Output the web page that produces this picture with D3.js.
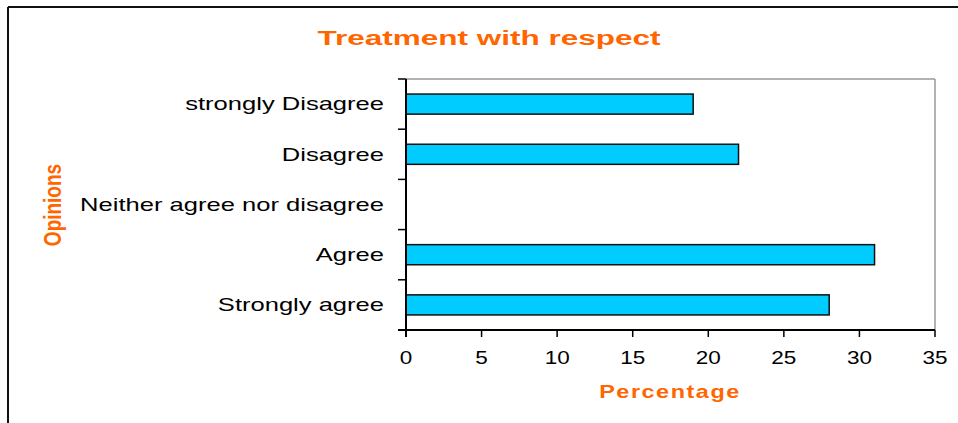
<!DOCTYPE html>
<html><head><meta charset="utf-8">
<script src="https://cdn.jsdelivr.net/npm/d3@7"></script>
<style>body{margin:0;background:#fff;}svg{display:block;font-family:"Liberation Sans",Arial,sans-serif;}</style>
</head><body>
<script>
const categories = ["strongly Disagree","Disagree","Neither agree nor disagree","Agree","Strongly agree"];
const values = [19, 22, 0, 31, 28];
const xTicks = [0,5,10,15,20,25,30,35];
const title = "Treatment with respect";
const xTitle = "Percentage";
const yTitle = "Opinions";

const W = 958, H = 423;
const svg = d3.select("body").append("svg").attr("width", W).attr("height", H);
const orange = "#FF6600";

// outer frame
svg.append("line").attr("x1",8).attr("x2",W).attr("y1",7).attr("y2",7).attr("stroke","#111").attr("stroke-width",2);
svg.append("line").attr("x1",8).attr("x2",8).attr("y1",7).attr("y2",H).attr("stroke","#111").attr("stroke-width",2);

const m = {left:406, right:935, top:79, bottom:330};
const x = d3.scaleLinear().domain([0,35]).range([m.left, m.right]);
const y = d3.scaleBand().domain(categories).range([m.top, m.bottom]).paddingInner(0.6).paddingOuter(0.3);
const yb = d3.scaleBand().domain(categories).range([m.top, m.bottom]);

// gray top and right borders
svg.append("line").attr("x1",m.left).attr("x2",m.right).attr("y1",m.top).attr("y2",m.top).attr("stroke","#999").attr("stroke-width",1.5);
svg.append("line").attr("x1",m.right).attr("x2",m.right).attr("y1",m.top).attr("y2",m.bottom).attr("stroke","#999").attr("stroke-width",1.5);

// bars
svg.selectAll("rect.bar").data(categories.map((c,i)=>({c,v:values[i]})).filter(d=>d.v>0))
  .enter().append("rect").attr("class","bar")
  .attr("x", x(0)).attr("y", d=>y(d.c)).attr("width", d=>x(d.v)-x(0)).attr("height", y.bandwidth())
  .attr("fill","#00CCFF").attr("stroke","#111").attr("stroke-width",1.5);

// y axis
svg.append("line").attr("x1",m.left).attr("x2",m.left).attr("y1",m.top).attr("y2",m.bottom+7).attr("stroke","#000").attr("stroke-width",2);
const yTickPos = categories.map(c=>yb(c)).concat([m.bottom]);
svg.selectAll("line.yt").data(yTickPos).enter().append("line")
  .attr("x1",m.left-8).attr("x2",m.left).attr("y1",d=>d).attr("y2",d=>d).attr("stroke","#000").attr("stroke-width",1.5);
svg.selectAll("text.yl").data(categories).enter().append("text")
  .attr("transform",d=>`translate(384,${yb(d)+yb.bandwidth()/2}) scale(1.42,1)`).attr("dy","0.35em")
  .attr("text-anchor","end").attr("font-size",18).attr("fill","#000").text(d=>d);

// x axis
svg.append("line").attr("x1",m.left-8).attr("x2",m.right).attr("y1",m.bottom).attr("y2",m.bottom).attr("stroke","#000").attr("stroke-width",2);
svg.selectAll("line.xt").data(xTicks).enter().append("line")
  .attr("x1",d=>x(d)).attr("x2",d=>x(d)).attr("y1",m.bottom).attr("y2",m.bottom+7).attr("stroke","#000").attr("stroke-width",1.5);
svg.selectAll("text.xl").data(xTicks).enter().append("text")
  .attr("transform",d=>`translate(${x(d)},358) scale(1.25,1)`).attr("dy","0.35em").attr("text-anchor","middle")
  .attr("font-size",18).attr("fill","#000").text(d=>d);

// titles
svg.append("text").attr("transform","translate(489,38) scale(1.5,1)").attr("dy","0.35em").attr("text-anchor","middle")
  .attr("font-size",21).attr("font-weight","bold").attr("fill",orange).text(title);
svg.append("text").attr("transform","translate(670,392) scale(1.3,1)").attr("dy","0.35em").attr("text-anchor","middle")
  .attr("font-size",18).attr("font-weight","bold").attr("letter-spacing",1.2).attr("fill",orange).text(xTitle);
svg.append("text").attr("transform","translate(52,205) scale(1.3,1) rotate(-90)").attr("dy","0.35em").attr("text-anchor","middle")
  .attr("font-size",19).attr("font-weight","bold").attr("fill",orange).text(yTitle);
</script>
</body></html>
